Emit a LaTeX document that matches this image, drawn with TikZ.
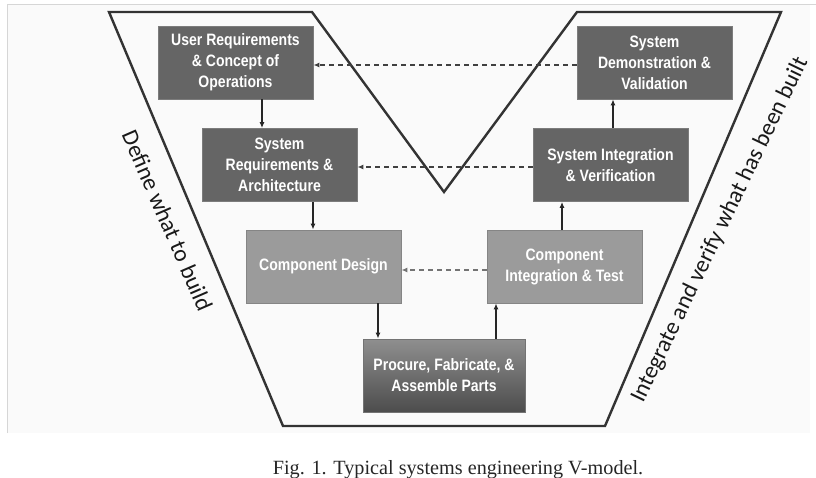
\documentclass[tikz,border=0pt]{standalone}
\usepackage{fontspec}
\setmainfont{Liberation Serif}
\newfontfamily\boxfont{Liberation Sans}[FakeStretch=0.85]
\newfontfamily\lblfont{Carlito}
\usetikzlibrary{arrows.meta}
\definecolor{darkbox}{HTML}{656565}
\definecolor{darkedge}{HTML}{7C7C7C}
\definecolor{lightbox}{HTML}{9B9B9B}
\definecolor{lightedge}{HTML}{858585}
\definecolor{outline}{HTML}{333333}
\tikzset{
  stage/.style={draw, line width=0.9pt, text=white, align=center,
    minimum width=155pt, minimum height=73pt, inner sep=2pt,
    font=\boxfont\bfseries\fontsize{16.5}{21}\selectfont},
  darkstage/.style={stage, fill=darkbox, draw=darkedge},
  lightstage/.style={stage, fill=lightbox, draw=lightedge},
  flow/.style={-{Latex[length=6pt,width=5pt]}, line width=1.1pt, draw=black!85},
  trace/.style={-{Latex[length=6pt,width=5pt]}, line width=1.1pt,
    dash pattern=on 5pt off 4pt},
  sidelabel/.style={anchor=base, font=\lblfont\fontsize{23.5}{26}\selectfont, text=black!90}
}
\begin{document}
\begin{tikzpicture}[x=1pt, y=-1pt]
\useasboundingbox (0,0) rectangle (816,478);
% image area of the figure
\fill[black!2] (7,5) rectangle (810,433);
\draw[black!16, line width=1pt] (7,433) -- (7,5) -- (816,5);

% V outline
\draw[outline, line width=2.4pt, line join=miter]
  (109,12) -- (312,12) -- (444,192) -- (577,12) -- (781,12)
  -- (605,426) -- (283,426) -- cycle;

% left branch: definition
\node[darkstage]  (ur) at (235.5,62.5) {User Requirements\\ \& Concept of\\ Operations};
\node[darkstage]  (sr) at (279.5,165)  {System\\ Requirements \&\\ Architecture};
\node[lightstage] (cd) at (323.5,266.5) {Component Design};
% bottom
\node[stage, draw=black!55, top color=black!44, bottom color=black!70,
      minimum width=162pt] (pf) at (444,375.5) {Procure, Fabricate, \&\\ Assemble Parts};
% right branch: integration
\node[lightstage] (ci) at (564.5,266.5) {Component\\ Integration \& Test};
\node[darkstage]  (si) at (610.5,165)  {System Integration\\ \& Verification};
\node[darkstage]  (sd) at (654.5,62.5) {System\\ Demonstration \&\\ Validation};

% downward flow
\draw[flow] ([xshift=26.5pt]ur.south) -- ([xshift=26.5pt]ur.south |- sr.north);
\draw[flow] ([xshift=33.5pt]sr.south) -- ([xshift=33.5pt]sr.south |- cd.north);
\draw[flow] ([xshift=54.5pt]cd.south) -- ([xshift=54.5pt]cd.south |- pf.north);
% upward flow
\draw[flow] ([xshift=52pt]pf.north) -- ([xshift=52pt]pf.north |- ci.south);
\draw[flow] ([xshift=-2.5pt]ci.north) -- ([xshift=-2.5pt]ci.north |- si.south);
\draw[flow] ([xshift=2.5pt]si.north) -- ([xshift=2.5pt]si.north |- sd.south);

% verification traces
\draw[trace, black!75] ([yshift=-2.5pt]sd.west) -- ([yshift=-2.5pt]ur.east);
\draw[trace, black!75] ([yshift=-2pt]si.west) -- ([yshift=-2pt]sr.east);
\draw[trace, black!55] ([yshift=-3.5pt]ci.west) -- ([yshift=-3.5pt]cd.east);

% side labels (anchored on their baselines)
\node[sidelabel, rotate=-66.5] (def) at (160,224) {Define what to build};
\node[sidelabel, rotate=64.3]  (ver) at (725.5,232.5) {Integrate and verify what has been built};

% caption
\node[anchor=base, font=\fontsize{20.2}{24}\selectfont, text=black!85] (cap) at (458,474)
  {Fig. 1. Typical systems engineering V-model.};
\end{tikzpicture}
\end{document}
